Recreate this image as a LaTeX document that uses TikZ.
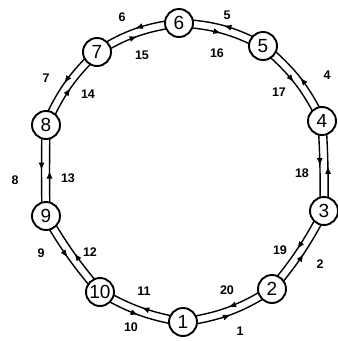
\documentclass[tikz,border=0pt]{standalone}
\usepackage{fontspec}
\setmainfont{Liberation Sans}
\usetikzlibrary{calc,decorations.markings,arrows.meta,backgrounds}
\tikzset{
  stn/.style={circle,draw,line width=1.9pt,fill=white,minimum size=28pt,inner sep=0pt,font=\fontsize{19}{19}\selectfont},
  lab/.style={inner sep=0pt,font=\bfseries\fontsize{12.5}{12.5}\selectfont},
  link/.style={line width=1.4pt,postaction={decorate},
    decoration={markings,mark=at position 0.5 with {\arrow{Latex[length=8pt,width=6pt]}}}},
}
\newcommand\ringlink[3]{%
  \draw[link] ($(n#1.center)!4pt!-90:(n#2.center)$) to[bend right=#3] ($(n#2.center)!4pt!90:(n#1.center)$);
  \draw[link] ($(n#2.center)!4pt!-90:(n#1.center)$) to[bend left=#3] ($(n#1.center)!4pt!90:(n#2.center)$);
}
\begin{document}
\begin{tikzpicture}[x=1pt,y=1pt]
\useasboundingbox (0,0) rectangle (338,-341);
\node[stn] (n1) at (183,-322) {1};
\node[stn] (n2) at (272,-289) {2};
\node[stn] (n3) at (324,-211) {3};
\node[stn] (n4) at (322,-121) {4};
\node[stn] (n5) at (263,-46) {5};
\node[stn] (n6) at (179,-23) {6};
\node[stn] (n7) at (97,-52) {7};
\node[stn] (n8) at (46,-125) {8};
\node[stn] (n9) at (46,-216) {9};
\node[stn] (n10) at (100,-292) {10};
\begin{scope}[on background layer]
\ringlink{1}{2}{12}
\ringlink{2}{3}{6}
\ringlink{3}{4}{2}
\ringlink{4}{5}{12}
\ringlink{5}{6}{12}
\ringlink{6}{7}{12}
\ringlink{7}{8}{11}
\ringlink{8}{9}{1}
\ringlink{9}{10}{5}
\ringlink{10}{1}{10}
\end{scope}
\node[lab] (l1) at (240,-331) {1};
\node[lab] (l2) at (320,-264) {2};
\node[lab] (l4) at (327,-75) {4};
\node[lab] (l5) at (227,-15) {5};
\node[lab] (l6) at (122,-17) {6};
\node[lab] (l7) at (46,-78) {7};
\node[lab] (l8) at (15,-180) {8};
\node[lab] (l9) at (41,-253) {9};
\node[lab] (l10) at (131,-327) {10};
\node[lab] (l11) at (144,-291) {11};
\node[lab] (l12) at (90,-252) {12};
\node[lab] (l13) at (68,-178) {13};
\node[lab] (l14) at (88,-94) {14};
\node[lab] (l15) at (142,-55) {15};
\node[lab] (l16) at (217,-53) {16};
\node[lab] (l17) at (279,-92) {17};
\node[lab] (l18) at (302,-173) {18};
\node[lab] (l19) at (280,-250) {19};
\node[lab] (l20) at (227,-290) {20};
\end{tikzpicture}
\end{document}
